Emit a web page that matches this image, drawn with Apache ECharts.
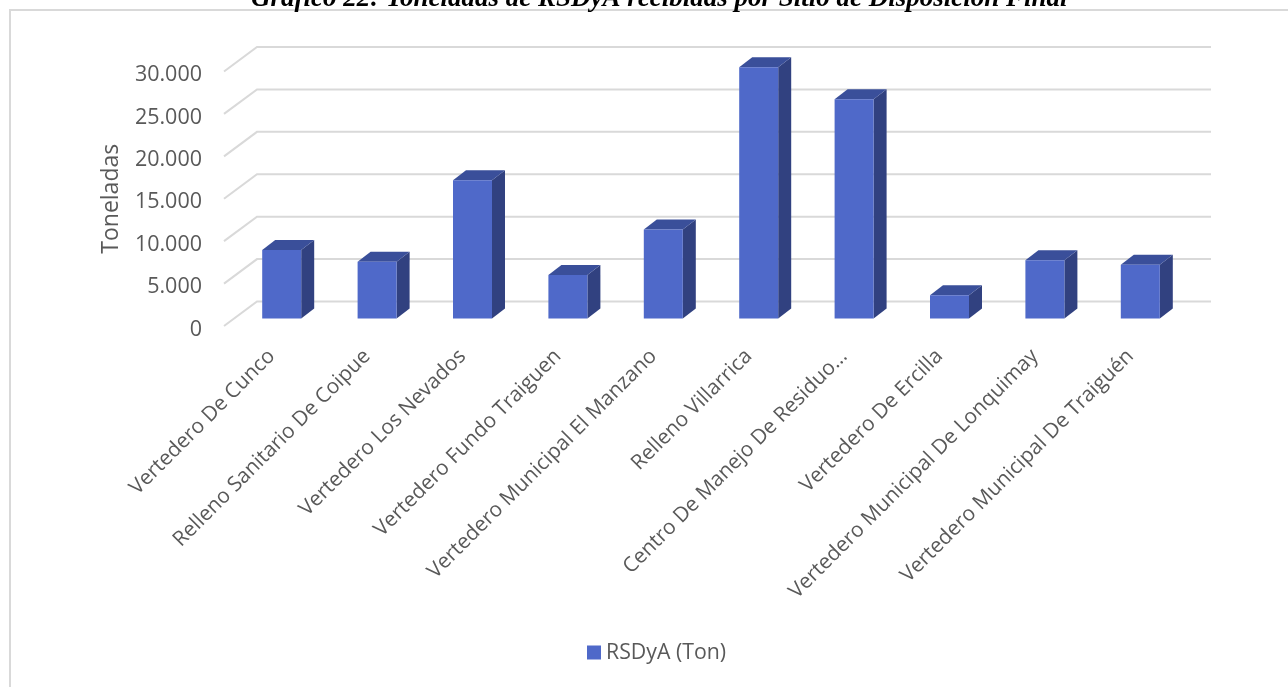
<!DOCTYPE html>
<html><head><meta charset="utf-8">
<style>html,body{margin:0;padding:0;background:#fff}#c{width:1288px;height:687px}</style>
<script src="https://cdn.jsdelivr.net/npm/echarts@6/dist/echarts.min.js"></script>
</head><body><div id="c"></div>
<script>
const categories = ["Vertedero De Cunco","Relleno Sanitario De Coipue","Vertedero Los Nevados","Vertedero Fundo Traiguen","Vertedero Municipal El Manzano","Relleno Villarrica","Centro De Manejo De Residuo…","Vertedero De Ercilla","Vertedero Municipal De Lonquimay","Vertedero Municipal De Traiguén"];
const values = [8075,6700,16290,5130,10500,29610,25840,2735,6860,6340];
const yTicks = [0,5000,10000,15000,20000,25000,30000];
const seriesName = "RSDyA (Ton)";
const titleText = "Gráfico 22: Toneladas de RSDyA recibidas por Sitio de Disposición Final";
const axisTitle = "Toneladas";

const font = '"Open Sans"';
const textColor = '#595959';
const gridColor = '#d9d9d9';
const wallDX = 33, wallDY = -24.5;   // floor depth of the back wall
const barDX = 10, barDY = -7.5;      // bar plane within the floor
const depthX = 13, depthY = -10;     // bar depth
const barW = 39;

const chart = echarts.init(document.getElementById('c'), null, {renderer:'canvas'});
chart.setOption({
  animation:false,
  backgroundColor:'#fff',
  title:{text:titleText,left:251,top:-14,padding:0,
    textStyle:{fontFamily:'"Liberation Serif"',fontStyle:'italic',fontWeight:'bold',fontSize:27,color:'#000'}},
  legend:{data:[{name:seriesName,icon:'rect'}],left:587,top:642,padding:0,itemWidth:14,itemHeight:14,itemGap:6,
    textStyle:{fontFamily:font,fontSize:21.3,color:textColor}},
  grid:{left:224,top:71.5,width:954,height:254.5},
  xAxis:{type:'category',data:categories,
    axisLine:{show:false},axisTick:{show:false},
    axisLabel:{interval:0,rotate:45,margin:27,fontFamily:font,fontSize:20.8,color:textColor}},
  yAxis:{type:'value',min:0,max:30000,interval:5000,
    name:axisTitle,nameLocation:'middle',nameGap:101,nameRotate:90,
    nameTextStyle:{fontFamily:font,fontSize:23,color:textColor},
    splitLine:{show:false},axisLine:{show:false},axisTick:{show:false},
    axisLabel:{margin:22,fontFamily:font,fontSize:21.5,color:textColor,verticalAlign:'top',lineHeight:7,
      formatter:v=>String(v).replace(/\B(?=(\d{3})+$)/g,'.')}},
  graphic:[{type:'rect',silent:true,z:-1,shape:{x:10,y:10,width:1400,height:800},
    style:{fill:'none',stroke:gridColor,lineWidth:2}}],
  series:[
    {type:'custom',name:'wall',silent:true,z:1,coordinateSystem:'cartesian2d',
      data:yTicks.map(t=>[0,t]),
      renderItem(params,api){
        const y=api.coord([0,api.value(1)])[1];
        const cs=params.coordSys;
        return {type:'polyline',shape:{points:[[cs.x,y],[cs.x+wallDX,y+wallDY],[cs.x+cs.width+wallDX,y+wallDY]]},
          style:{fill:'none',stroke:gridColor,lineWidth:2}};
      }},
    {type:'custom',name:seriesName,z:2,coordinateSystem:'cartesian2d',
      itemStyle:{color:'#4f69c9'},
      data:values.map((v,i)=>[i,v]),
      renderItem(params,api){
        const i=api.value(0), v=api.value(1);
        const top=api.coord([i,v]), base=api.coord([i,0]);
        const x0=top[0]+barDX-barW/2, x1=x0+barW;
        const yt=top[1]+barDY, yb=base[1]+barDY;
        return {type:'group',children:[
          {type:'polygon',shape:{points:[[x1,yt],[x1+depthX,yt+depthY],[x1+depthX,yb+depthY],[x1,yb]]},style:{fill:'#314180'}},
          {type:'polygon',shape:{points:[[x0,yt],[x0+depthX,yt+depthY],[x1+depthX,yt+depthY],[x1,yt]]},style:{fill:'#3a4f9a'}},
          {type:'rect',shape:{x:x0,y:yt,width:barW,height:yb-yt},style:{fill:'#4f69c9'}}
        ]};
      }}
  ]
});
</script></body></html>
